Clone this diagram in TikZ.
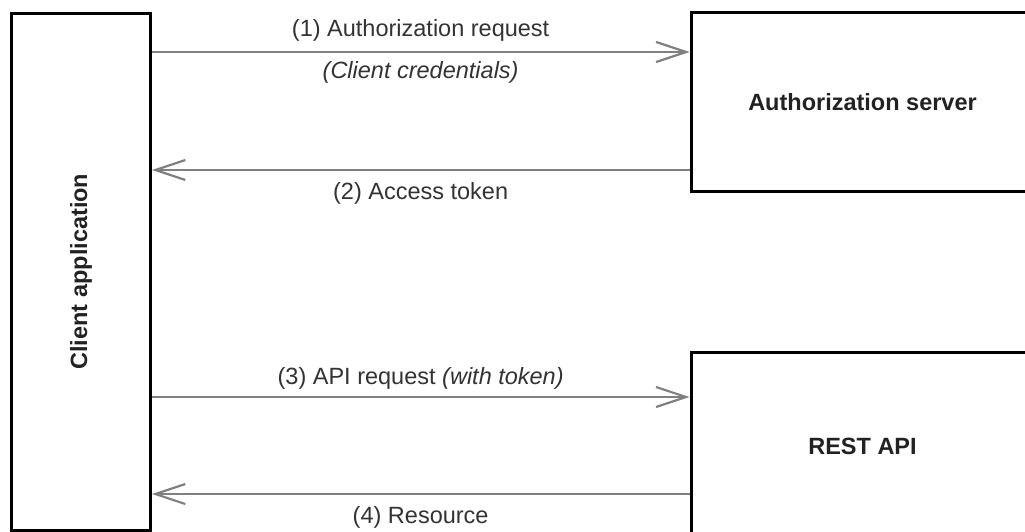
\documentclass[tikz,border=0pt]{standalone}
\usepackage{fontspec}
\setmainfont{Liberation Sans}
\usepackage{xcolor}
\definecolor{arrowgray}{RGB}{128,128,128}
\definecolor{labelgray}{RGB}{51,51,51}
\definecolor{boxtext}{RGB}{34,34,34}
\usetikzlibrary{arrows.meta, positioning}
\newcommand{\diagfont}{\fontsize{23.5}{28}\selectfont}

\begin{document}
\begin{tikzpicture}[
    x=1pt, y=-1pt,
    box/.style={rectangle, draw=black, line width=3pt, fill=white,
                inner sep=0pt, font=\diagfont\bfseries\color{boxtext}},
    flow/.style={-{Straight Barb[length=30pt, width=20pt]},
                 draw=arrowgray, line width=2.2pt},
    lbl/.style={font=\diagfont\color{labelgray}}
  ]
  \useasboundingbox[fill=white] (0,0) rectangle (1025,532);
  \clip (0,0) rectangle (1025,532);

  % Parties (client is turned, so its right side is its south anchor)
  \node[box, rotate=90, minimum width=517pt, minimum height=138.6pt]
    (client) at (81,271.6) {Client application};
  \node[box, minimum width=343pt, minimum height=179pt]
    (auth) at (862.5,102.2) {Authorization server};
  \node[box, minimum width=343pt, minimum height=186.6pt]
    (rest) at (862.5,446) {REST API};

  % Message levels
  \coordinate (req) at (0,52);
  \coordinate (tok) at (0,170);
  \coordinate (call) at (0,397);
  \coordinate (res) at (0,494);

  % Token exchange
  \draw[flow] (client.south |- req) -- (auth.west |- req)
    node[lbl, midway, above=6pt] (reqlbl) {(1) Authorization request}
    node[lbl, midway, below=5pt] (credlbl) {\itshape (Client credentials)};
  \draw[flow] (auth.west |- tok) -- (client.south |- tok)
    node[lbl, midway, below=8pt] (toklbl) {(2) Access token};

  % Resource access
  \draw[flow] (client.south |- call) -- (rest.west |- call)
    node[lbl, midway, above=3pt] (calllbl) {(3) API request \textit{(with token)}};
  \draw[flow] (rest.west |- res) -- (client.south |- res)
    node[lbl, midway, below=8pt] (reslbl) {(4) Resource};
\end{tikzpicture}
\end{document}
